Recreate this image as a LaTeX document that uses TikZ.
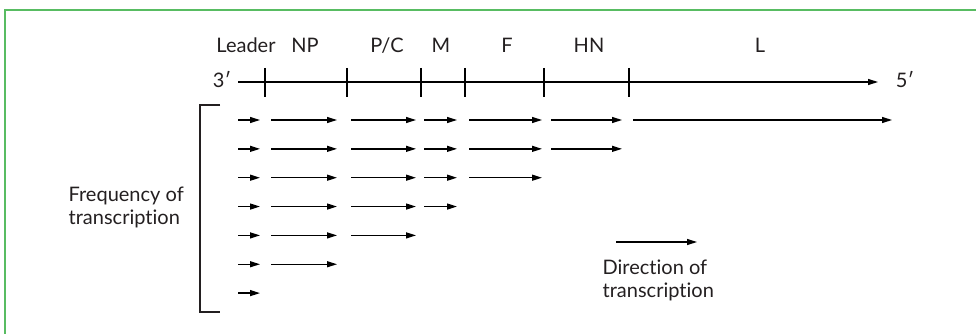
\documentclass[tikz,border=0pt]{standalone}
\usepackage{fontspec}
\setmainfont{Lato}[Ligatures={NoCommon,NoRare,NoDiscretionary}]
\usetikzlibrary{arrows.meta}
\definecolor{framegreen}{RGB}{88,188,98}
\definecolor{ink}{RGB}{35,31,32}
\begin{document}
\begin{tikzpicture}[x=1pt,y=-1pt,line width=1.3pt,
  arr/.style={-{Triangle[length=10pt,width=6pt]}},
  lbl/.style={font=\fontsize{20}{23}\selectfont,inner sep=0pt,text=ink},
  tick/.style={line width=1.1pt},
  frameline/.style={draw=framegreen,line width=2pt}]
\useasboundingbox (0,0) rectangle (976,334);
% frame
\coordinate (fbl) at (5,334);
\coordinate (ftl) at (5,10);
\coordinate (ftr) at (976,10);
\draw[frameline] (fbl) -- (ftl) -- (ftr);
% region labels
\node[lbl,anchor=base] (leader) at (246,53) {Leader};
\node[lbl,anchor=base] (np) at (305,53) {NP};
\node[lbl,anchor=base] (pc) at (387,53) {P/C};
\node[lbl,anchor=base] (m) at (441,53) {M};
\node[lbl,anchor=base] (f) at (507,53) {F};
\node[lbl,anchor=base] (hn) at (589,53) {HN};
\node[lbl,anchor=base] (l) at (760,53) {L};
% genome axis
\node[lbl,anchor=base] (three) at (222,88) {3′};
\node[lbl,anchor=base] (five) at (905,88) {5′};
\coordinate (axs) at (238,82);
\coordinate (axe) at (878,82);
\draw[arr] (axs) -- (axe);
\foreach \x [count=\k] in {265,347,421,465,544,629}{
  \coordinate (tt\k) at (\x,68);
  \coordinate (tb\k) at (\x,97);
  \draw[tick] (tt\k) -- (tb\k);
}
% bracket
\coordinate (b1) at (220,105);
\coordinate (b2) at (200,105);
\coordinate (b3) at (200,312);
\coordinate (b4) at (220,312);
\draw[line width=1.1pt,draw=ink] (b1) -- (b2) -- (b3) -- (b4);
\node[lbl,anchor=west,align=left] (freq) at (68,207) {Frequency of\\transcription};
% transcripts
\foreach \r in {1,...,7}{
  \pgfmathsetmacro\yy{120+(\r-1)*28.85}
  \pgfmathtruncatemacro\nn{8-\r}
  \foreach [count=\i] \a/\b in {238/260,271/337,351/416,424/457,469/542,551/622,633/892}{
    \ifnum\i>\nn\relax\else
      \coordinate (s\r-\i) at (\a,\yy);
      \coordinate (e\r-\i) at (\b,\yy);
      \draw[arr] (s\r-\i) -- (e\r-\i);
    \fi
  }
}
% legend
\coordinate (ds) at (616,242);
\coordinate (de) at (697,242);
\draw[arr] (ds) -- (de);
\node[lbl,anchor=west,align=left] (dir) at (602,280) {Direction of\\transcription};
\end{tikzpicture}
\end{document}
